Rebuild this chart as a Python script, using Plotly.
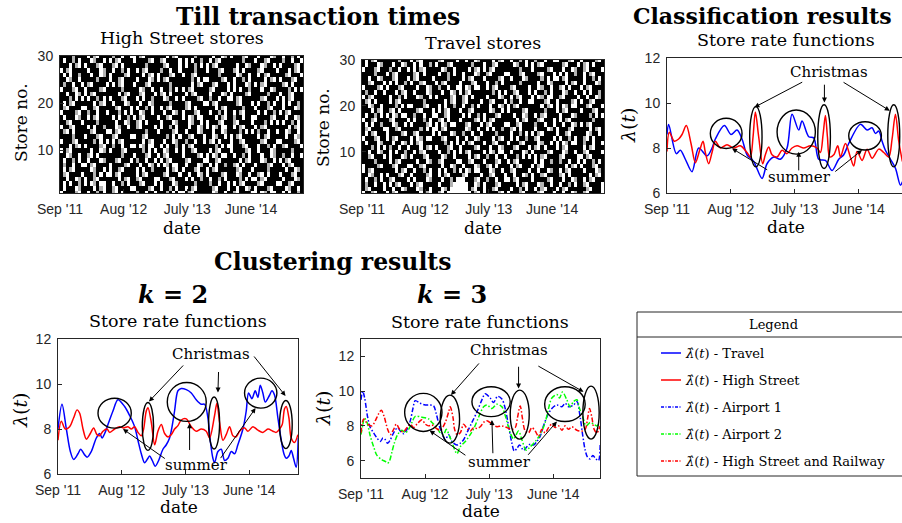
import plotly.graph_objects as go

W, H = 902, 523
SERIF = "DejaVu Serif"
SANS = "Liberation Sans, Arial, sans-serif"
AX = "#262626"

# ------------------------------------------------------------------ data
tick_months = [0, 11, 22, 33]
tick_labels = ["Sep '11", "Aug '12", "July '13", "June '14"]
raster_span_months = 42

# transaction raster, one string per store, top row = store 30
# '#' = dense till activity, '+' = sparse, '.' = none
high_street_rows = [
    "####+### #.#+.### #+##.##. .#+.#### ###.#+.# ####+### ##.##.+# .###+.## #.###.+# #.##+#.#",
    "#.##+#.# ##.+##.# .#+.#### .####+.# #+.####. #.#.##+# #.#+.### ####+### .##+.### #+##.##.",
    "###.#+.# .###+.## #+.#.### ####+### ##+.###. #.##+#.# .#+.#### ##.##.+# ##.+##.# .####+.#",
    ".#+.#### #.###.+# #.##+#.# #.#+.### #+##.##. ####+### .###+.## #+.#.### #+.####. ###.#+.#",
    "#.#.##+# ##.##.+# .####+.# ###.#+.# .###+.## .##+.### ####+### ##.+##.# #.#+.### ##+.###.",
    "##.+##.# ####+### .##+.### #.###.+# .#+.#### ###+#.#. .####+.# #.##+#.# ###.#+.# .###+.##",
    "#+##.##. #+.####. #.#+.### .###+.## ####+### ###.#+.# ##+.###. #.###.+# .#+.#### #+.#.###",
    ".###+.## .####+.# ####+### ##.+##.# #.##+#.# .#+.#### #+.####. #.#.##+# ##.##.+# ###+#.#.",
    "##.##.+# .#+.#### ###.#+.# ##+.###. #+.#.### #.#+.### #.###.+# .####+.# ####+### .##+.###",
    "###+#.#. #.##+#.# .###+.## #.#.##+# ##.+##.# .####+.# #+##.##. .#+.#### ##+.###. #.#+.###",
    "#.#+.### ###.#+.# #.###.+# ##.##.+# ####+### #+.####. .#+.#### ##+.###. #.##+#.# #.#.##+#",
    "#+.####. .##+.### ##+.###. #.##+#.# #.#+.### #+.#.### ###.#+.# ####+### .###+.## #.###.+#",
    ".####+.# #+##.##. ###+#.#. ##.+##.# ##.##.+# .###+.## #.##+#.# #.#+.### #.#.##+# .#+.####",
    "#.###.+# #.#+.### #.#.##+# .#+.#### .##+.### .#.+#..# ###.#+.# #+##.##. .####+.# ##.##.+#",
    "##+.###. ####+### ##.##.+# #+.#.### #.###.+# ##.+##.# .###+.## #+.####. ###+#.#. #.##+#.#",
    ".##+.### #.#.##+# ##.+##.# #+.####. #.##+#.# ##.##.+# .#.+#..# #.#+.### .#+.#### ###.#+.#",
    "#+.#.### ##+.###. .#+.#### ####+### .####+.# #.###.+# ##.##.+# ###+#.#. #+##.##. ##.+##.#",
    "####+### .###+.## #+.####. .##+.### ###+#.#. ##+.###. ##.+##.# .#+.#### #.#+.### ##.##.+#",
    ".###+.## ###+#.#. #.#+.### ###.#+.# ##.##.+# #+##.##. #+.#.### .##+.### ##+.###. .####+.#",
    "###.#+.# .####+.# #+##.##. .#.+#..# #.#.##+# .#+.#### ###+#.#. .###+.## #.##+#.# #+.####.",
    ".#+.#### ##.##.+# .###+.## ###+#.#. ##.+##.# .##+.### #.#+.### .####+.# #.###.+# ####+###",
    "##.+##.# #+.#.### ####+### .###+.## .#+.#### .####+.# .#.+#..# #.##+#.# ##.##.+# #+##.##.",
    "#.##+#.# #.###.+# ##+.###. #+##.##. #.#+.### #+.####. .##+.### ###.#+.# ##.+##.# .#+.####",
    "#+##.##. .#+.#### .####+.# ##.##.+# .#.+#..# #.###.+# #.#.##+# #+.#.### .###+.## #.#+.###",
    "#.#+.### ##.+##.# .##+.### #.#.##+# ###.#+.# .###+.## .#+.#### ##+.###. ####+### ##.##.+#",
    "#+.####. ###+#.#. .#+.#### #.#+.### ##+.###. ##.##.+# .####+.# ##.+##.# #+.#.### .###+.##",
    "##.##.+# .##+.### ###.#+.# #+.####. .###+.## #.#.##+# #.##+#.# ###+#.#. .#+.#### #.###.+#",
    "#.#.##+# .#.+#..# #.##+#.# ##+.###. #.###.+# ####+### #+##.##. #.#+.### #+.####. .##+.###",
    "#.###.+# ###.#+.# #+.####. .####+.# #.##+#.# #.#+.### ##+.###. ##.##.+# .###+.## ##.+##.#",
    ".####+.# #.##+#.# #+.#.### #+##.##. ###+#.#. .#+.#### ##.+##.# #+.####. .#.+#..# #.#.##+#",
]

travel_rows = [
    "#.#+.### ####+### .#+.#### #+.####. ##.##.+# ###.#+.# #.##+#.# #+##.##. .###+.## .####+.#",
    "#.###.+# ##.##.+# #.#.##+# .###+.## ####+### .##+.### ##.+##.# .#+.#### ##+.###. #+.#.###",
    ".###+.## #+##.##. #.#+.### ##.+##.# ###.#+.# .#+.#### ####+### .####+.# ##.##.+# #+.####.",
    "####+### .#+.#### #+.#.### #.##+#.# #.###.+# #+.####. .###+.## ##+.###. #.#.##+# #.#+.###",
    "##.##.+# ##+.###. #+.####. ####+### #.#+.### .####+.# #.###.+# ###+#.#. .#+.#### #.##+#.#",
    "##+.###. #.#.##+# .##+.### .#+.#### .###+.## #.##+#.# ####+### ##.##.+# ###.#+.# #.###.+#",
    ".####+.# .###+.## ##.##.+# #+##.##. .#.+#..# #.#+.### #+.####. ##.+##.# #+.#.### .#+.####",
    "#+##.##. ###.#+.# #.###.+# ##.##.+# .#+.#### ###+#.#. ##+.###. #.##+#.# ##.+##.# #.#.##+#",
    ".#+.#### #.##+#.# ##.+##.# .####+.# #+.#.### #.###.+# #.#+.### .#.+#..# #+.####. ##.##.+#",
    "#+.#.### #.#+.### ####+### ###.#+.# #+.####. ##+.###. #+##.##. .###+.## .####+.# .##+.###",
    "##.+##.# ###+#.#. .###+.## #.#.##+# #.##+#.# ##.##.+# .#+.#### ###.#+.# .#.+#..# ##+.###.",
    "###.#+.# #+.#.### ##+.###. #.#+.### .##+.### ##.+##.# .####+.# ####+### .#+.#### .###+.##",
    "#.##+#.# .#.+#..# #+##.##. .##+.### #.#.##+# .###+.## ##.##.+# #.#+.### #.###.+# ###+#.#.",
    ".##+.### #+.####. #.##+#.# #+.#.### .####+.# .#+.#### ###.#+.# ##+.###. #.#+.### ####+###",
    "#.#.##+# ##.+##.# .####+.# .#.+#..# ##+.###. #+.####. .##+.### #+##.##. ##.##.+# .#+.####",
    "#+.####. .##+.### ###+#.#. .#+.#### ##.+##.# #.#.##+# #+.#.### #.###.+# .###+.## ###.#+.#",
    "#.#+.### .####+.# #+.####. #.###.+# #+##.##. ####+### #.##+#.# .#+.#### .##+.### ##.+##.#",
    ".###+.## .#+.#### .#.+#..# ##+.###. ##.##.+# ###.#+.# #.#.##+# #+.####. #.##+#.# #+.#.###",
    "#.###.+# ##.##.+# .#+.#### ###+#.#. #.#+.### .##+.### .###+.## ##.+##.# .#.+#..# #+##.##.",
    "###+#.#. #+##.##. ###.#+.# .###+.## .####+.# ##.##.+# ##+.###. #+.#.### .#+.#### #.#+.###",
    "##.##.+# #.#.##+# #.#+.### #.##+#.# .#+.#### .#.+#..# #.###.+# .####+.# ##.+##.# #+.####.",
    "##+.###. #.###.+# .###+.## ##.+##.# ###.#+.# #+##.##. ###+#.#. #.#+.### #+.####. .#+.####",
    "####+### #.#+.### ##.##.+# #+.####. .##+.### .###+.## .#+.#### #.#.##+# #+##.##. #.##+#.#",
    ".####+.# ##+.###. .##+.### ##.##.+# #.###.+# #+.#.### #.#+.### .#+.#### ###.#+.# .###+.##",
    ".#+.#### ###.#+.# #.##+#.# #.#.##+# .#.+#..# ##.+##.# #+.####. ##.##.+# #.#+.### #.###.+#",
    "##.+##.# .###+.## .####+.# #.#+.### #+.####. ##+.###. ##.##.+# .##+.### #+.#.### ###.#+.#",
    "#.##+#.# #+.####. #.###.+# ##.##+#. ..###+.# #+##.##. .#+.#### .####+.# ##.##.+# #.#+.###",
    "#+##.##. #.#+.### .#+.#### #.###+.. ...##.+# .###+.## ###.#+.# ##.+##.# #.##+#.# #+.####.",
    "#+.####. ##.##.+# ##.+##.# ##.+#... ...#+.## .##+.### #.##+#.# #.#+.### .#+.#### ##+.###.",
    ".##+.### .#+.#### ###.#+.# #+.#.... ....#+.# .####+.# .###+.## ##+.###. ##.##.+# #+.####.",
]
raster_levels = {"#": 1.0, "+": 0.3, ".": 0.0}

# (month since Sep 2011, rate)
cls_travel = [(0.0, 8.6), (0.29, 9.05), (1.6, 7.75), (2.3, 7.9), (3.16, 7.5), (4.31, 6.95), (5.46, 8.0),
              (6.9, 7.65), (7.76, 8.0), (8.33, 8.4), (9.89, 9.0), (11.03, 8.6), (12.07, 8.8), (12.93, 8.4),
              (13.79, 7.7), (14.94, 7.4), (16.38, 6.65), (17.24, 7.3), (18.39, 7.6), (19.54, 7.5), (20.69, 8.0),
              (21.55, 9.5), (22.7, 8.8), (23.28, 9.2), (24.43, 8.5), (25.29, 8.45), (26.15, 7.5), (27.3, 7.45),
              (28.45, 7.0), (29.6, 7.5), (30.46, 7.7), (31.32, 8.2), (33.33, 9.05), (34.48, 8.8), (35.34, 8.9),
              (35.92, 8.65), (36.49, 8.75), (37.07, 8.3), (37.64, 7.9), (38.51, 7.5), (39.37, 7.1), (40.23, 6.35),
              (40.57, 6.5)]
cls_high_street = [(0.0, 7.85), (0.4, 8.7), (1.26, 8.3), (2.01, 8.4), (2.59, 8.6), (3.33, 9.0), (4.14, 8.2),
                   (4.89, 7.35), (5.63, 7.9), (6.21, 8.3), (6.61, 7.8), (7.18, 7.3), (7.76, 7.8), (8.33, 8.3),
                   (9.2, 8.0), (10.34, 8.15), (11.49, 8.0), (12.64, 8.1), (13.79, 7.8), (14.37, 7.6), (14.83, 8.5),
                   (15.23, 9.6), (15.8, 8.5), (16.49, 7.3), (16.95, 7.7), (17.53, 8.05), (18.1, 7.7), (18.97, 7.6),
                   (19.83, 7.9), (20.69, 7.75), (21.55, 8.0), (22.41, 8.1), (23.56, 8.0), (24.71, 8.1), (25.86, 8.0),
                   (26.44, 7.8), (26.9, 8.6), (27.3, 9.45), (27.65, 8.5), (28.05, 7.6), (28.74, 7.7), (29.43, 8.1),
                   (29.89, 7.6), (30.75, 8.2), (31.6, 7.6), (32.18, 7.2), (32.76, 7.85), (33.62, 7.45), (34.48, 7.95),
                   (35.34, 7.55), (36.49, 7.95), (37.36, 7.8), (38.22, 7.6), (38.79, 8.4), (39.37, 9.5), (39.94, 8.3),
                   (40.57, 7.4)]

k2_travel = [(0.0, 8.0), (0.69, 9.1), (1.44, 8.0), (2.13, 7.0), (2.7, 6.65), (3.45, 6.9), (3.91, 7.1), (4.6, 6.85),
             (5.06, 6.75), (5.75, 7.0), (6.61, 7.6), (7.18, 7.8), (7.6, 7.6), (8.05, 7.8), (8.62, 8.2), (9.48, 8.8),
             (10.34, 9.3), (11.49, 9.0), (12.36, 8.6), (13.22, 8.1), (13.79, 7.5), (14.37, 6.9), (14.94, 6.5),
             (15.52, 6.7), (15.8, 6.8), (16.26, 6.6), (16.78, 6.35), (17.36, 6.6), (18.1, 7.1), (18.68, 7.3),
             (19.25, 7.6), (19.6, 8.0), (20.11, 8.8), (20.69, 9.7), (21.26, 9.8), (22.13, 9.75), (22.99, 9.6),
             (23.85, 9.3), (24.71, 9.1), (25.29, 9.1), (25.86, 8.5), (26.26, 7.5), (26.72, 6.7), (27.01, 6.5),
             (27.59, 7.0), (28.16, 7.1), (28.74, 6.6), (29.31, 6.7), (29.89, 7.0), (30.46, 6.9), (31.03, 7.3),
             (31.9, 8.0), (32.47, 8.8), (32.87, 9.6), (33.45, 9.35), (34.02, 9.7), (34.48, 9.4), (34.89, 9.95),
             (35.34, 9.6), (35.75, 9.2), (36.49, 9.5), (36.9, 9.7), (37.36, 9.5), (37.93, 8.5), (38.51, 7.5),
             (38.97, 6.9), (39.37, 6.7), (39.83, 6.8), (40.23, 7.05), (40.63, 6.7), (41.09, 6.3), (41.44, 7.6)]
k2_high_street = [(0.0, 7.5), (0.57, 8.35), (1.26, 8.0), (2.01, 8.1), (2.7, 8.5), (3.28, 8.85), (3.74, 8.7),
                  (4.31, 8.0), (4.89, 7.55), (5.57, 7.8), (6.15, 8.05), (6.72, 7.75), (7.18, 7.7), (7.76, 7.9),
                  (8.45, 8.0), (8.91, 7.85), (9.77, 8.0), (10.63, 8.1), (11.32, 8.05), (12.07, 8.1), (12.64, 8.0),
                  (13.22, 8.1), (13.79, 7.85), (14.37, 7.7), (14.77, 8.0), (15.23, 8.8), (15.52, 8.95), (16.09, 8.3),
                  (16.67, 7.3), (17.24, 7.9), (17.82, 8.2), (18.39, 7.8), (18.97, 7.65), (19.54, 7.75), (20.11, 8.0),
                  (20.69, 8.15), (21.26, 8.4), (22.13, 8.45), (22.99, 8.1), (23.85, 7.9), (24.71, 8.0), (25.57, 7.9),
                  (26.15, 7.6), (27.01, 8.6), (27.41, 9.15), (27.87, 8.3), (28.45, 7.5), (29.02, 7.75), (29.6, 8.1),
                  (30.17, 7.7), (30.75, 7.65), (31.32, 7.9), (32.18, 8.05), (32.76, 7.9), (33.62, 8.1), (34.48, 7.95),
                  (35.34, 7.85), (36.21, 8.0), (37.07, 7.9), (37.64, 7.85), (38.22, 8.0), (38.68, 8.2), (39.08, 8.9),
                  (39.37, 9.0), (39.83, 8.5), (40.23, 7.6), (40.8, 7.4), (41.38, 7.75)]

k3_airport1 = [(0.0, 9.5), (0.29, 10.0), (0.63, 9.6), (1.14, 8.5), (1.6, 7.9), (2.17, 7.6), (2.74, 7.3), (3.31, 7.1),
               (3.77, 7.3), (4.17, 7.2), (4.57, 7.0), (5.03, 7.2), (5.6, 7.6), (6.29, 7.9), (6.74, 7.7), (7.31, 7.55),
               (7.89, 7.8), (8.46, 8.3), (8.91, 9.0), (9.31, 9.45), (10.17, 9.3), (11.03, 9.2), (11.89, 9.2),
               (12.46, 9.15), (12.91, 8.7), (13.43, 8.0), (13.89, 7.6), (14.46, 7.2), (15.03, 7.5), (15.6, 7.1),
               (16.46, 6.9), (17.03, 7.0), (17.6, 7.2), (18.17, 7.6), (19.03, 8.2), (19.89, 8.8), (20.74, 9.5),
               (21.31, 9.85), (22.17, 9.6), (22.74, 9.35), (23.43, 9.7), (24.17, 9.55), (24.74, 9.0), (25.31, 8.0),
               (25.89, 7.0), (26.29, 6.55), (26.74, 6.7), (27.2, 6.9), (27.89, 6.6), (28.46, 6.8), (29.03, 6.95),
               (29.6, 6.9), (30.17, 7.1), (30.74, 7.4), (31.31, 8.0), (32.0, 8.6), (32.74, 9.0), (33.6, 9.2),
               (34.46, 9.1), (35.03, 9.3), (35.6, 9.1), (36.46, 9.2), (37.03, 9.4), (37.6, 8.5), (38.06, 7.4),
               (38.46, 6.6), (38.86, 6.2), (39.31, 6.1), (39.77, 6.3), (40.29, 6.1), (40.74, 6.0), (41.03, 6.9)]
k3_airport2 = [(0.0, 7.5), (0.29, 8.0), (0.57, 8.45), (1.03, 8.2), (1.6, 7.4), (2.17, 6.8), (2.74, 6.3), (3.6, 6.05),
               (4.17, 5.95), (4.57, 5.85), (4.91, 6.0), (5.31, 6.5), (5.71, 7.0), (6.29, 7.5), (7.03, 7.75),
               (7.6, 7.6), (8.17, 7.8), (8.74, 8.2), (9.31, 8.55), (10.46, 8.5), (11.6, 8.4), (12.17, 8.2),
               (13.03, 7.9), (13.6, 7.6), (14.17, 7.5), (14.63, 7.8), (15.2, 7.4), (15.77, 6.9), (16.46, 6.4),
               (17.03, 6.8), (17.89, 7.1), (18.74, 7.5), (19.43, 7.9), (20.17, 8.5), (21.03, 9.1), (21.6, 9.2),
               (22.46, 9.0), (23.31, 9.25), (24.17, 9.1), (24.74, 8.6), (25.6, 7.6), (26.17, 7.25), (27.03, 7.7),
               (27.6, 7.2), (28.34, 6.6), (29.03, 6.8), (29.89, 7.1), (30.74, 7.5), (31.6, 8.2), (32.17, 9.0),
               (32.74, 9.6), (33.6, 9.8), (34.06, 9.6), (34.57, 9.95), (35.31, 9.5), (35.89, 9.1), (36.46, 9.4),
               (37.03, 9.5), (37.49, 9.0), (38.06, 8.5), (38.63, 8.0), (39.31, 8.2), (39.89, 8.1), (40.46, 8.0),
               (41.03, 8.2)]
k3_hs_railway = [(0.0, 7.6), (0.46, 8.4), (1.14, 8.1), (1.89, 8.0), (2.46, 8.3), (3.03, 8.7), (3.49, 8.9), (4.0, 8.5),
                 (4.57, 7.8), (5.03, 7.5), (5.6, 7.8), (6.06, 8.1), (6.63, 7.8), (7.2, 7.65), (7.89, 7.9), (8.46, 8.1),
                 (9.03, 7.9), (9.6, 8.1), (10.46, 8.35), (11.03, 8.1), (11.6, 8.0), (12.17, 8.05), (12.74, 7.9),
                 (13.6, 7.75), (14.46, 8.2), (15.03, 8.8), (15.31, 9.1), (15.77, 8.5), (16.06, 7.8), (16.46, 7.5),
                 (17.03, 7.6), (17.6, 8.1), (18.17, 7.85), (18.74, 7.7), (19.31, 7.9), (19.89, 7.85), (20.46, 7.95),
                 (21.03, 8.2), (21.6, 8.3), (22.46, 8.1), (23.31, 7.95), (24.17, 8.0), (25.03, 7.9), (25.89, 7.8),
                 (26.46, 7.9), (26.86, 8.5), (27.31, 9.15), (27.71, 8.4), (28.17, 7.7), (28.74, 7.6), (29.31, 7.9),
                 (29.89, 7.7), (30.46, 7.4), (31.03, 7.8), (31.6, 7.6), (32.17, 7.9), (32.74, 8.1), (33.31, 7.9),
                 (33.89, 8.0), (34.46, 7.75), (35.03, 8.0), (35.6, 7.8), (36.17, 7.95), (37.03, 7.75), (37.89, 7.7),
                 (38.46, 7.8), (38.86, 8.4), (39.2, 9.0), (39.6, 8.5), (40.0, 7.8), (40.46, 7.6), (41.03, 8.0)]

legend_labels = ["Travel", "High Street", "Airport 1", "Airport 2", "High Street and Railway"]

# ------------------------------------------------------------------ annotation marks (data coords)
# ellipses: (t0, t1, y0, y1); arrows: (head_t, head_y, tail_t, tail_y)
marks = {
    "3": dict(
        ellipses=[(7.47, 12.93, 7.98, 9.32), (14.25, 16.38, 7.16, 9.84), (18.97, 25.57, 7.73, 9.69),
                  (25.98, 28.16, 7.09, 9.92), (31.32, 36.95, 7.91, 9.17), (38.05, 40.11, 7.16, 9.92)],
        christmas=(27.87, 11.36), summer=(22.82, 6.72),
        arrows=[(15.06, 9.81, 23.56, 10.96), (27.13, 10.02, 27.13, 10.88), (38.39, 9.66, 30.17, 10.96),
                (11.21, 7.98, 17.53, 6.99), (22.7, 7.83, 22.7, 6.94), (33.62, 7.91, 28.74, 6.9)]),
    "4": dict(
        ellipses=[(6.9, 12.64, 8.04, 9.37), (14.54, 16.49, 7.05, 9.18), (18.85, 25.57, 8.34, 10.07),
                  (25.98, 27.87, 7.11, 9.42), (32.18, 37.76, 8.93, 10.26), (38.22, 40.4, 7.13, 9.27)],
        christmas=(26.32, 11.32), summer=(23.85, 6.42),
        arrows=[(15.69, 9.22, 21.84, 10.89), (27.59, 9.62, 27.7, 10.6), (39.25, 9.47, 33.62, 11.29),
                (11.21, 8.0, 18.68, 6.64), (22.7, 8.26, 22.7, 7.0), (34.08, 8.93, 27.87, 6.64)]),
    "5": dict(
        ellipses=[(7.49, 13.89, 7.68, 9.87), (13.6, 16.91, 7.01, 9.77), (19.03, 25.6, 8.53, 10.25),
                  (25.6, 28.86, 7.24, 10.06), (31.51, 38.46, 8.25, 10.25), (38.06, 40.86, 7.24, 10.29)],
        christmas=(25.43, 12.34), summer=(23.71, 5.9),
        arrows=[(15.43, 9.77, 20.46, 11.68), (27.03, 10.15, 27.03, 11.49), (38.17, 9.96, 30.17, 11.49),
                (11.77, 7.73, 18.17, 6.25), (22.46, 8.34, 22.63, 6.34), (33.6, 8.25, 28.46, 6.25)]),
}


# ------------------------------------------------------------------ helpers
def px(x):
    return x / W


def py(y):
    return 1 - y / H


def raster(rows):
    clean = [r.replace(" ", "") for r in rows]
    n = min(len(r) for r in clean)
    z = [[raster_levels.get(c, 0.0) for c in r[:n]] for r in reversed(clean)]
    return z, n


def xy(pairs):
    return [p[0] for p in pairs], [p[1] for p in pairs]


def axis(**kw):
    d = dict(showline=True, linecolor=AX, linewidth=1, mirror=True, ticks="inside", ticklen=4,
             tickcolor=AX, tickwidth=1, showgrid=False, zeroline=False, automargin=False,
             tickfont=dict(family=SANS, size=14, color=AX))
    d.update(kw)
    return d


fig = go.Figure()

# rasters
for rows, ax in ((high_street_rows, ""), (travel_rows, "2")):
    z, n = raster(rows)
    fig.add_trace(go.Heatmap(z=z, x0=raster_span_months / (2 * n), dx=raster_span_months / n, y0=1, dy=1,
                             colorscale=[[0, "white"], [1, "black"]], zmin=0, zmax=1, showscale=False,
                             xaxis="x" + ax, yaxis="y" + ax, hoverinfo="skip"))

SOLID = "solid"
DASHDOT = "5px,2px,1.5px,2px"
series = [
    ("3", cls_travel, "#0000ff", SOLID), ("3", cls_high_street, "#ff0000", SOLID),
    ("4", k2_travel, "#0000ff", SOLID), ("4", k2_high_street, "#ff0000", SOLID),
    ("5", k3_airport1, "#0000ff", DASHDOT), ("5", k3_airport2, "#00ff00", DASHDOT),
    ("5", k3_hs_railway, "#ff0000", DASHDOT),
]
for ax, pairs, col, dash in series:
    x, y = xy(pairs)
    fig.add_trace(go.Scatter(x=x, y=y, mode="lines", xaxis="x" + ax, yaxis="y" + ax,
                             line=dict(color=col, width=1.5, dash=dash, shape="spline", smoothing=0.9),
                             hoverinfo="skip"))

# panels: (left, right, top, bottom) in pixels
boxes = {"": (60, 303, 56, 193), "2": (362, 604, 60, 193), "3": (667, 902, 58, 193),
         "4": (58, 298, 339, 474), "5": (361, 600, 339, 478)}
xranges = {"": [0, 42], "2": [0, 42], "3": [0, 40.5], "4": [0, 41.4], "5": [0, 41.0]}
yranges = {"": [1, 30], "2": [1, 30], "3": [6, 12], "4": [6, 12], "5": [5, 13]}
yticks = {"": [10, 20, 30], "2": [10, 20, 30], "3": [6, 8, 10, 12], "4": [6, 8, 10, 12], "5": [6, 8, 10, 12]}

layout = {}
for ax, (l, r, t, b) in boxes.items():
    layout["xaxis" + ax] = axis(domain=[px(l), min(1, px(r))], range=xranges[ax], tickvals=tick_months,
                                ticktext=tick_labels, anchor="y" + ax, ticklabelstandoff=3)
    layout["yaxis" + ax] = axis(domain=[py(b), py(t)], range=yranges[ax], tickvals=yticks[ax], anchor="x" + ax,
                                mirror=(ax != "3"), ticklabelstandoff=3)

shapes = []
annotations = []
for ax, m in marks.items():
    for (t0, t1, y0, y1) in m["ellipses"]:
        shapes.append(dict(type="circle", xref="x" + ax, yref="y" + ax, x0=t0, x1=t1, y0=y0, y1=y1,
                           line=dict(color="black", width=1.4)))
    for (hx, hy, tx, ty) in m["arrows"]:
        annotations.append(dict(x=hx, y=hy, ax=tx, ay=ty, xref="x" + ax, yref="y" + ax, axref="x" + ax,
                                ayref="y" + ax, showarrow=True, arrowhead=2, arrowsize=1, arrowwidth=1,
                                arrowcolor="black", text="", standoff=0))
    for key, label in (("christmas", "Christmas"), ("summer", "summer")):
        cx, cy = m[key]
        annotations.append(dict(x=cx, y=cy, xref="x" + ax, yref="y" + ax, text=label, showarrow=False,
                                font=dict(family=SERIF, size=15, color="black")))


def text(txt, x, y, size, angle=0, xanchor="center"):
    annotations.append(dict(text=txt, x=px(x), y=py(y), xref="paper", yref="paper", showarrow=False,
                            font=dict(family=SERIF, size=size, color="black"), textangle=angle,
                            xanchor=xanchor, yanchor="middle"))


text("<b>Till transaction times</b>", 318, 17, 23.5)
text("High Street stores", 182, 38, 17.5)
text("Travel stores", 483, 43, 17.5)
text("<b>Classification results</b>", 631, 16, 22, xanchor="left")
text("Store rate functions", 786, 40, 17.5)
text("<b>Clustering results</b>", 332, 262, 23.5)
text("<b><i>k</i> = 2</b>", 173, 294, 24)
text("<b><i>k</i> = 3</b>", 452, 294, 24)
text("Store rate functions", 178, 321, 17.5)
text("Store rate functions", 480, 322, 17.5)
for (x, y) in ((182, 228), (483, 228), (786, 227), (179, 507), (481, 511)):
    text("date", x, y, 17)
text("Store no.", 21, 123, 17, angle=-90)
text("Store no.", 323, 128, 17, angle=-90)
for (x, y) in ((628, 125), (20, 410), (323, 408)):
    text("<i>λ</i>(<i>t</i>)", x, y, 19, angle=-90)

# legend box
shapes.append(dict(type="rect", xref="paper", yref="paper", x0=px(637), x1=1.03, y0=py(476), y1=py(312),
                   line=dict(color=AX, width=1)))
shapes.append(dict(type="line", xref="paper", yref="paper", x0=px(637), x1=1.03, y0=py(337), y1=py(337),
                   line=dict(color=AX, width=1)))
text("Legend", 773, 324, 13)
legend_styles = [("#0000ff", "solid"), ("#ff0000", "solid"), ("#0000ff", "3px,1.5px,1px,1.5px"),
                 ("#00ff00", "3px,1.5px,1px,1.5px"), ("#ff0000", "3px,1.5px,1px,1.5px")]
for i, (lab, (col, dash)) in enumerate(zip(legend_labels, legend_styles)):
    yy = [353, 380, 407, 434, 461][i]
    shapes.append(dict(type="line", xref="paper", yref="paper", x0=px(661), x1=px(681), y0=py(yy), y1=py(yy),
                       line=dict(color=col, width=1.5, dash=dash)))
    text("<i>λ̂</i>(<i>t</i>) - " + lab, 683, yy, 13, xanchor="left")

fig.update_layout(width=W, height=H, margin=dict(l=0, r=0, t=0, b=0, autoexpand=False), paper_bgcolor="white",
                  plot_bgcolor="white", showlegend=False, shapes=shapes, annotations=annotations, **layout)

fig.write_html("out.html")
